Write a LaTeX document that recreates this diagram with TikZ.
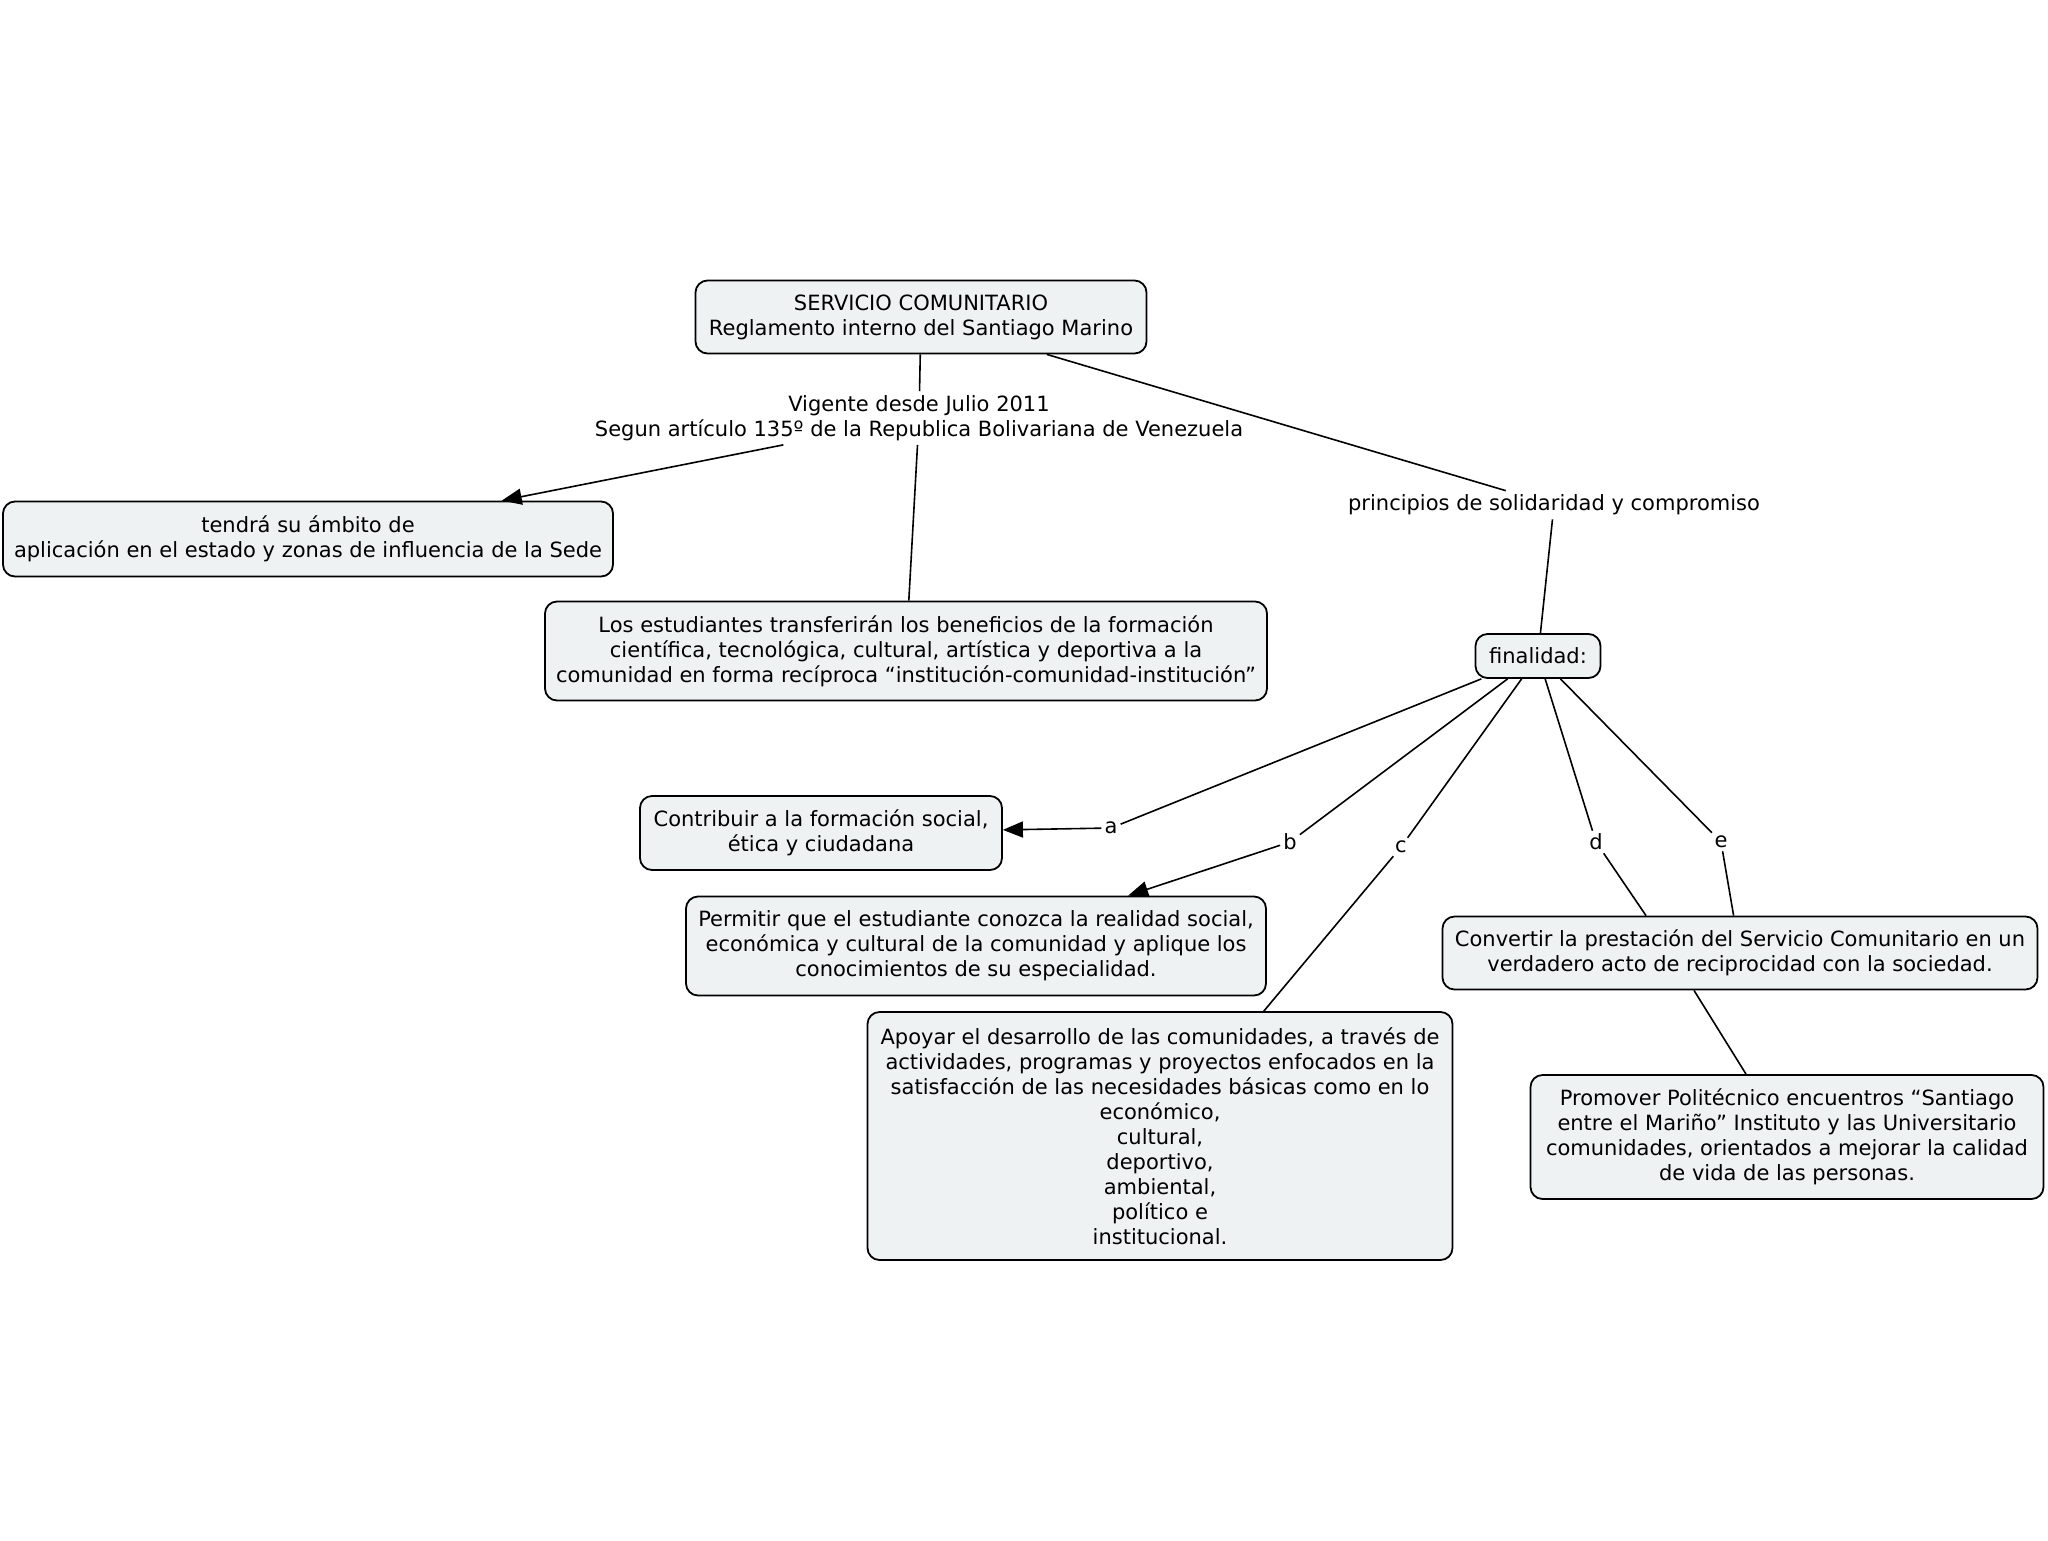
\documentclass[tikz,border=0pt]{standalone}
\usepackage{fontspec}
\setmainfont{DejaVu Sans}
\usetikzlibrary{arrows.meta,calc}
\definecolor{boxfill}{RGB}{239,242,243}
\begin{document}
\begin{tikzpicture}[x=1pt,y=-1pt,
  txt/.style={font=\fontsize{21}{25}\selectfont},
  box/.style={txt,draw=black,line width=1.8pt,fill=boxfill,rounded corners=12pt,align=center,inner sep=0pt},
  lbl/.style={txt,align=center,inner sep=4pt},
  conn/.style={line width=1.6pt},
  arr/.style={conn,-{Triangle[length=20pt,width=16pt]}}]
\useasboundingbox[fill=white] (0,0) rectangle (2048,1540);

\node[box,minimum width=451pt,minimum height=73pt] (main) at (921,317) {SERVICIO COMUNITARIO\\Reglamento interno del Santiago Marino};
\node[lbl] (vig) at (919,418) {Vigente desde Julio 2011\\Segun artículo 135º de la Republica Bolivariana de Venezuela};
\node[box,minimum width=610pt,minimum height=75pt] (tend) at (308,539) {tendrá su ámbito de\\aplicación en el estado y zonas de influencia de la Sede};
\node[box,minimum width=722pt,minimum height=99pt] (los) at (906,651) {Los estudiantes transferirán los beneficios de la formación\\científica, tecnológica, cultural, artística y deportiva a la\\comunidad en forma recíproca “institución-comunidad-institución”};
\node[lbl] (prin) at (1554,505) {principios de solidaridad y compromiso};
\node[box,minimum width=125pt,minimum height=44pt] (fin) at (1538,656) {finalidad:};
\node[box,minimum width=362pt,minimum height=74pt] (contrib) at (821,833) {Contribuir a la formación social,\\ética y ciudadana};
\node[box,minimum width=580pt,minimum height=99pt] (perm) at (976,946) {Permitir que el estudiante conozca la realidad social,\\económica y cultural de la comunidad y aplique los\\conocimientos de su especialidad.};
\node[box,minimum width=585pt,minimum height=248pt] (apoy) at (1160,1136) {Apoyar el desarrollo de las comunidades, a través de\\actividades, programas y proyectos enfocados en la\\satisfacción de las necesidades básicas como en lo\\económico,\\cultural,\\deportivo,\\ambiental,\\político e\\institucional.};
\node[box,minimum width=595pt,minimum height=73pt] (conv) at (1740,953) {Convertir la prestación del Servicio Comunitario en un\\verdadero acto de reciprocidad con la sociedad.};
\node[box,minimum width=513pt,minimum height=124pt] (prom) at (1787,1137) {Promover Politécnico encuentros “Santiago\\entre el Mariño” Instituto y las Universitario\\comunidades, orientados a mejorar la calidad\\de vida de las personas.};

\node[lbl,inner sep=3pt] (la) at (1111,828) {a};
\node[lbl,inner sep=3pt] (lb) at (1290,842) {b};
\node[lbl,inner sep=3pt] (lc) at (1401,847) {c};
\node[lbl,inner sep=3pt] (ld) at (1596,842) {d};
\node[lbl,inner sep=3pt] (le) at (1721,842) {e};

\draw[conn] (main) -- (vig);
\draw[arr] (vig) -- (tend);
\draw[conn] (vig) -- (los);
\draw[conn] (main) -- (prin);
\draw[conn] (prin) -- (fin);
\draw[conn] (fin) -- (la);
\draw[arr] (la) -- (contrib);
\draw[conn] (fin) -- (lb);
\draw[arr] (lb) -- (perm);
\draw[conn] (fin) -- (lc);
\draw[conn] (lc) -- (apoy);
\draw[conn] (fin) -- (ld);
\draw[conn] (ld) -- ($(conv.north)+(-94,0)$);
\draw[conn] (fin) -- (le);
\draw[conn] (le) -- (conv);
\draw[conn] ($(conv.south)+(-46,0)$) -- ($(prom.north)+(-41,0)$);
\end{tikzpicture}
\end{document}
